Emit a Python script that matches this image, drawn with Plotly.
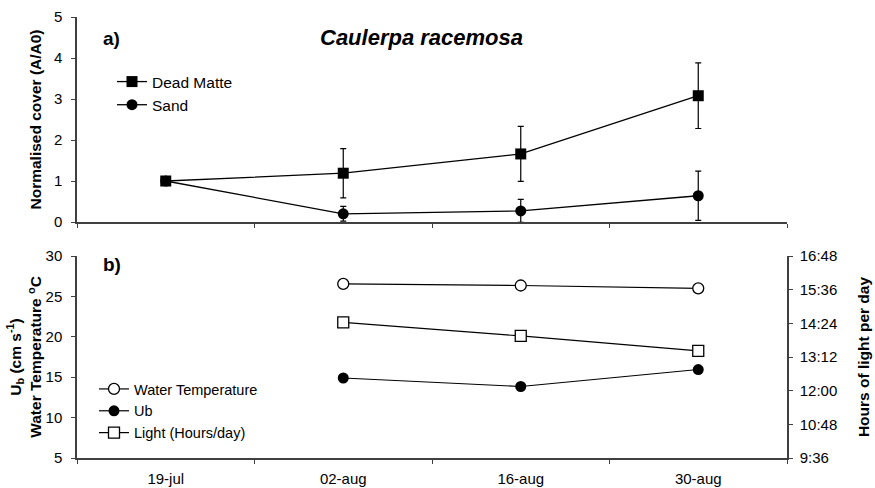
import plotly.graph_objects as go

# ---------------- data ----------------
dates = ["19-jul", "02-aug", "16-aug", "30-aug"]

dead_matte = [1.0, 1.19, 1.66, 3.08]
dead_matte_err = [None, 0.60, 0.67, 0.80]
sand = [1.0, 0.20, 0.27, 0.64]
sand_err = [None, 0.18, 0.28, 0.60]

water_temp = [None, 26.55, 26.35, 26.0]
ub = [None, 14.9, 13.85, 15.95]
light_hhmm = [None, "14:26", "13:57", "13:25"]

cover_ticks = [0, 1, 2, 3, 4, 5]
left_ticks = [5, 10, 15, 20, 25, 30]
hour_ticklabels = ["9:36", "10:48", "12:00", "13:12", "14:24", "15:36", "16:48"]


def to_hours(s):
    if s is None:
        return None
    h, m = s.split(":")
    return int(h) + int(m) / 60.0


light = [to_hours(v) for v in light_hhmm]
hour_tickvals = [to_hours(v) for v in hour_ticklabels]

# ---------------- style ----------------
FONT = "Liberation Sans, Arial, sans-serif"
AX = "#404040"
W, H = 875, 488
L, R, T, B = 77, 88, 17, 30
PW, PH = W - L - R, H - T - B


def px_x(px):
    return (px - L) / PW


def px_y(py):
    return (H - B - py) / PH


fig = go.Figure()

fig.add_trace(go.Scatter(
    x=dates, y=dead_matte, name="Dead Matte", mode="lines+markers",
    line=dict(color="black", width=1.3),
    marker=dict(symbol="square", size=11, color="black"),
    error_y=dict(type="data", array=dead_matte_err, color="black", thickness=1.2, width=3),
    xaxis="x", yaxis="y", legend="legend"))
fig.add_trace(go.Scatter(
    x=dates, y=sand, name="Sand", mode="lines+markers",
    line=dict(color="black", width=1.3),
    marker=dict(symbol="circle", size=11, color="black"),
    error_y=dict(type="data", array=sand_err, color="black", thickness=1.2, width=3),
    xaxis="x", yaxis="y", legend="legend"))

fig.add_trace(go.Scatter(
    x=dates, y=water_temp, name="Water Temperature", mode="lines+markers",
    line=dict(color="black", width=1.2),
    marker=dict(symbol="circle", size=11, color="white", line=dict(color="black", width=1.3)),
    xaxis="x2", yaxis="y2", legend="legend2"))
fig.add_trace(go.Scatter(
    x=dates, y=ub, name="Ub", mode="lines+markers",
    line=dict(color="black", width=1.2),
    marker=dict(symbol="circle", size=11, color="black"),
    xaxis="x2", yaxis="y2", legend="legend2"))
fig.add_trace(go.Scatter(
    x=dates, y=light, name="Light (Hours/day)", mode="lines+markers",
    line=dict(color="black", width=1.2),
    marker=dict(symbol="square", size=11, color="white", line=dict(color="black", width=1.3)),
    xaxis="x2", yaxis="y3", legend="legend2"))

tickfont = dict(family=FONT, size=15, color="black")
titlefont = dict(family=FONT, size=15.5, color="black")
legfont = dict(family=FONT, size=15.5, color="black")
legfont2 = dict(family=FONT, size=14.5, color="black")

xcommon = dict(type="category", categoryorder="array", categoryarray=dates,
               range=[-0.5, 3.5], showline=True, linecolor=AX, linewidth=1.5,
               ticks="outside", ticklen=4, tickcolor=AX, tickwidth=1.2,
               tickson="boundaries", showgrid=False, zeroline=False,
               tickfont=tickfont, automargin=False)

fig.update_layout(
    width=W, height=H,
    margin=dict(l=L, r=R, t=T, b=B, autoexpand=False),
    paper_bgcolor="white", plot_bgcolor="white",
    font=dict(family=FONT, color="black"),
    xaxis=dict(**xcommon, anchor="y", domain=[0, 1], showticklabels=False),
    xaxis2=dict(**xcommon, anchor="y2", domain=[0, 1], ticklabelstandoff=6),
    yaxis=dict(domain=[px_y(222), 1.0], anchor="x", range=[0, 5],
               tickvals=cover_ticks, showline=True, linecolor=AX, linewidth=1.5,
               ticks="outside", ticklen=4, tickcolor=AX, tickwidth=1.2,
               showgrid=False, zeroline=False, tickfont=tickfont, ticklabelstandoff=6,
               automargin=False,
               title=dict(text="<b>Normalised cover (A/A0)</b>", font=titlefont, standoff=8)),
    yaxis2=dict(domain=[0, px_y(256)], anchor="x2", range=[5, 30],
                tickvals=left_ticks, showline=True, linecolor=AX, linewidth=1.5,
                ticks="outside", ticklen=4, tickcolor=AX, tickwidth=1.2,
                showgrid=False, zeroline=False, tickfont=tickfont, ticklabelstandoff=6,
                automargin=False,
                title=dict(text="<b>U<sub>b</sub> (cm s<sup>-1</sup>)<br>Water Temperature <sup>o</sup>C</b>",
                           font=titlefont, standoff=0)),
    yaxis3=dict(overlaying="y2", anchor="x2", side="right", range=[hour_tickvals[0], hour_tickvals[-1]],
                tickvals=hour_tickvals, ticktext=hour_ticklabels,
                showline=True, linecolor=AX, linewidth=1.5,
                ticks="outside", ticklen=4, tickcolor=AX, tickwidth=1.2,
                showgrid=False, zeroline=False, tickfont=tickfont, ticklabelstandoff=4,
                automargin=False,
                title=dict(text="<b>Hours of light per day</b>", font=titlefont, standoff=22)),
    yaxis4=dict(overlaying="y2", anchor="x2", side="right", range=[hour_tickvals[0], hour_tickvals[-1]],
                tickvals=hour_tickvals, showticklabels=False, showline=False,
                ticks="inside", ticklen=4, tickcolor=AX, tickwidth=1.2,
                showgrid=False, zeroline=False, automargin=False),
    legend=dict(x=px_x(112), y=px_y(65), xanchor="left", yanchor="top",
                bgcolor="rgba(0,0,0,0)", font=legfont,
                itemwidth=30, tracegroupgap=0),
    legend2=dict(x=px_x(94), y=px_y(373), xanchor="left", yanchor="top",
                 bgcolor="rgba(0,0,0,0)", font=legfont2,
                 itemwidth=30, tracegroupgap=0),
    showlegend=True,
    annotations=[
        dict(text="<b>a)</b>", x=px_x(111), y=px_y(38), xref="paper", yref="paper",
             xanchor="center", yanchor="middle",
             showarrow=False, font=dict(family=FONT, size=19, color="black")),
        dict(text="<b><i>Caulerpa racemosa</i></b>", x=px_x(421), y=px_y(37), xref="paper", yref="paper",
             xanchor="center", yanchor="middle",
             showarrow=False, font=dict(family=FONT, size=22, color="black")),
        dict(text="<b>b)</b>", x=px_x(112), y=px_y(264), xref="paper", yref="paper",
             xanchor="center", yanchor="middle",
             showarrow=False, font=dict(family=FONT, size=19, color="black")),
    ],
)

fig.write_html("out.html", config={"displayModeBar": False},
               post_script="document.body.style.margin='0';")
